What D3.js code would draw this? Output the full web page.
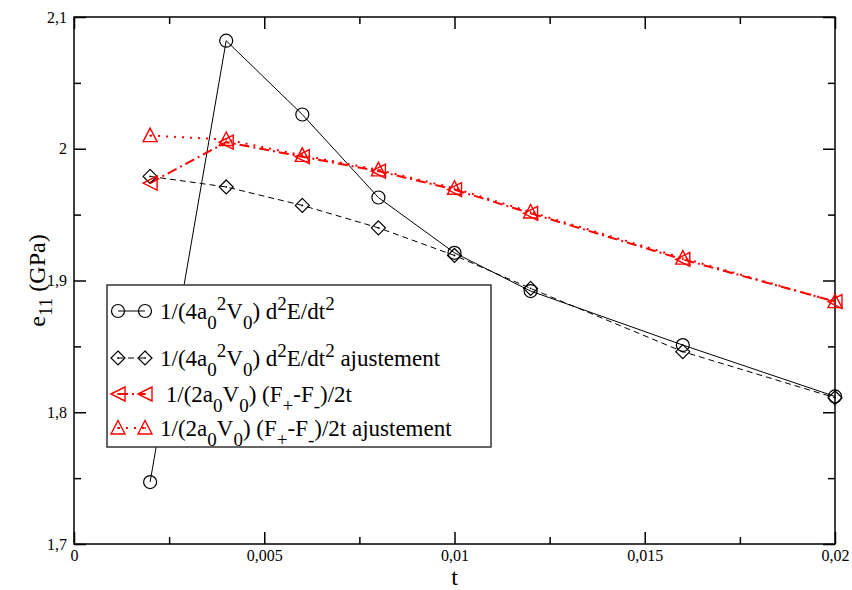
<!DOCTYPE html>
<html><head><meta charset="utf-8">
<script src="https://cdn.jsdelivr.net/npm/d3@7/dist/d3.min.js"></script>
</head><body style="margin:0"><svg id="c" width="852" height="590"></svg>
<script>
const tValues = [0.002, 0.004, 0.006, 0.008, 0.01, 0.012, 0.016, 0.02];
const circleSeries   = [1.747, 2.082, 2.026, 1.963, 1.921, 1.892, 1.851, 1.812];
const diamondSeries  = [1.979, 1.971, 1.957, 1.940, 1.919, 1.894, 1.846, 1.811];
const leftTriSeries  = [1.974, 2.005, 1.994, 1.983, 1.969, 1.951, 1.916, 1.884];
const upTriSeries    = [2.010, 2.007, 1.995, 1.984, 1.970, 1.952, 1.917, 1.884];
const xTicks = [0, 0.005, 0.01, 0.015, 0.02];
const xTickLabels = ["0", "0,005", "0,01", "0,015", "0,02"];
const yTicks = [1.7, 1.8, 1.9, 2.0, 2.1];
const yTickLabels = ["1,7", "1,8", "1,9", "2", "2,1"];
const xMinor = [0.0025, 0.0075, 0.0125, 0.0175];
const yMinor = [1.75, 1.85, 1.95, 2.05];

const FONT = '"Times New Roman"';
const svg = d3.select("#c");
const L = 74, T = 17, W = 761, H = 527;
const x = d3.scaleLinear().domain([0, 0.02]).range([0, W]);
const y = d3.scaleLinear().domain([1.7, 2.1]).range([H, 0]);

// titles and legend text created first
svg.append("text").attr("x", L + W / 2).attr("y", 585).attr("text-anchor", "middle")
  .attr("font-size", 24).style("font-family", FONT).text("t");
const yl = svg.append("text").attr("transform", `translate(45,${T + H / 2}) rotate(-90)`)
  .attr("text-anchor", "middle").attr("font-size", 24).style("font-family", FONT);
yl.append("tspan").text("e");
yl.append("tspan").attr("dy", 7).attr("font-size", 19).text("11");
yl.append("tspan").attr("dy", -7).text(" (GPa)");

const g = svg.append("g").attr("transform", `translate(${L},${T})`);

function styleAxis(sel) {
  sel.attr("font-family", null).attr("font-size", null);
  sel.select(".domain").remove();
  sel.selectAll("line").attr("stroke", "#000").attr("stroke-width", 1.5);
  sel.selectAll("text").attr("font-size", 16).style("font-family", FONT).attr("fill", "#000");
}
// bottom
g.append("g").attr("transform", `translate(0,${H})`)
  .call(d3.axisBottom(x).tickValues(xTicks).tickSizeInner(-12).tickSizeOuter(0).tickPadding(6).tickFormat((d, i) => xTickLabels[i]))
  .call(styleAxis);
g.append("g").attr("transform", `translate(0,${H})`)
  .call(d3.axisBottom(x).tickValues(xMinor).tickSizeInner(-7).tickSizeOuter(0).tickFormat(""))
  .call(styleAxis);
// top
g.append("g").call(d3.axisTop(x).tickValues(xTicks).tickSizeInner(-12).tickSizeOuter(0).tickFormat("")).call(styleAxis);
g.append("g").call(d3.axisTop(x).tickValues(xMinor).tickSizeInner(-7).tickSizeOuter(0).tickFormat("")).call(styleAxis);
// left
g.append("g")
  .call(d3.axisLeft(y).tickValues(yTicks).tickSizeInner(-12).tickSizeOuter(0).tickPadding(7).tickFormat((d, i) => yTickLabels[i]))
  .call(styleAxis);
g.append("g").call(d3.axisLeft(y).tickValues(yMinor).tickSizeInner(-7).tickSizeOuter(0).tickFormat("")).call(styleAxis);
// right
g.append("g").attr("transform", `translate(${W},0)`)
  .call(d3.axisRight(y).tickValues(yTicks).tickSizeInner(-12).tickSizeOuter(0).tickFormat("")).call(styleAxis);
g.append("g").attr("transform", `translate(${W},0)`)
  .call(d3.axisRight(y).tickValues(yMinor).tickSizeInner(-7).tickSizeOuter(0).tickFormat("")).call(styleAxis);

// frame
g.append("rect").attr("width", W).attr("height", H).attr("fill", "none").attr("stroke", "#000").attr("stroke-width", 1.5);

const line = d3.line().x((d, i) => x(tValues[i])).y(d => y(d));

const series = [
  { data: circleSeries, color: "#000", width: 1, dash: null, marker: "circle" },
  { data: diamondSeries, color: "#000", width: 1, dash: "6,4", marker: "diamond" },
  { data: leftTriSeries, color: "#ff0000", width: 2, dash: "10,4,2,4", marker: "left" },
  { data: upTriSeries, color: "#ff0000", width: 2, dash: "2,6", marker: "up" }
];

function marker(sel, type, cx, cy, color) {
  const mg = sel.append("g").attr("transform", `translate(${cx},${cy})`);
  const common = s => s.attr("fill", "none").attr("stroke", color).attr("stroke-width", type === "left" || type === "up" ? 1.4 : 1.2);
  if (type === "circle") common(mg.append("circle").attr("r", 6.5));
  else if (type === "diamond") common(mg.append("path").attr("d", "M0,-7L7,0L0,7L-7,0Z"));
  else if (type === "left") common(mg.append("path").attr("d", "M-7,0L7,-7L7,7Z"));
  else if (type === "up") common(mg.append("path").attr("d", "M0,-7.5L7,6L-7,6Z"));
  if (type !== "circle") mg.append("circle").attr("r", 0.9).attr("fill", color);
}

series.forEach(s => {
  g.append("path").datum(s.data).attr("d", line).attr("fill", "none")
    .attr("stroke", s.color).attr("stroke-width", s.width)
    .attr("stroke-dasharray", s.dash);
});
series.forEach(s => {
  s.data.forEach((v, i) => marker(g, s.marker, x(tValues[i]), y(v), s.color));
});

// legend
const legendLabels = [
  [["1/(4a"], ["0", "sub"], ["2", "sup"], ["V"], ["0", "sub"], [") d"], ["2", "sup"], ["E/dt"], ["2", "sup"]],
  [["1/(4a"], ["0", "sub"], ["2", "sup"], ["V"], ["0", "sub"], [") d"], ["2", "sup"], ["E/dt"], ["2", "sup"], [" ajustement"]],
  [["\u00a01/(2a"], ["0", "sub"], ["V"], ["0", "sub"], [") (F"], ["+", "sub"], ["-F"], ["-", "sub"], [")/2t"]],
  [["1/(2a"], ["0", "sub"], ["V"], ["0", "sub"], [") (F"], ["+", "sub"], ["-F"], ["-", "sub"], [")/2t ajustement"]]
];
const legendRowY = [311, 358, 394, 428];
svg.append("rect").attr("x", 107).attr("y", 285).attr("width", 384).attr("height", 162)
  .attr("fill", "#fff").attr("stroke", "#333").attr("stroke-width", 1.5);
series.forEach((s, k) => {
  const cy = legendRowY[k];
  svg.append("line").attr("x1", 118).attr("x2", 145).attr("y1", cy).attr("y2", cy)
    .attr("stroke", s.color).attr("stroke-width", s.width).attr("stroke-dasharray", s.dash);
  marker(svg, s.marker, 118, cy, s.color);
  marker(svg, s.marker, 145, cy, s.color);
  const t = svg.append("text").attr("x", 160).attr("y", cy + 8).attr("font-size", 23)
    .style("font-family", FONT).attr("fill", "#000");
  let cur = 0;
  legendLabels[k].forEach(([str, kind]) => {
    let target = kind === "sub" ? 10 : kind === "sup" ? -9 : 0;
    const ts = t.append("tspan").attr("dy", target - cur).text(str);
    if (kind) ts.attr("font-size", 19);
    cur = target;
  });
});
</script></body></html>
